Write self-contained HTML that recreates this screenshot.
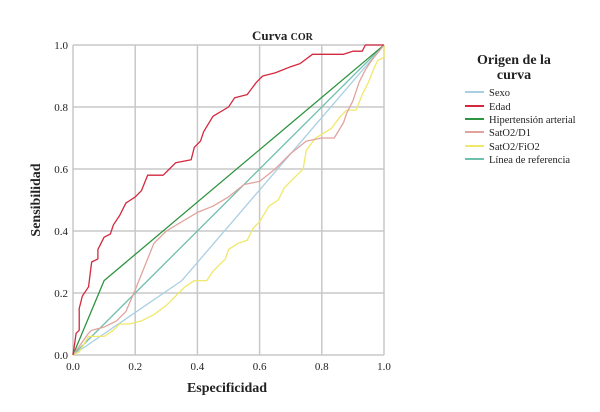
<!DOCTYPE html>
<html><head><meta charset="utf-8"><style>
body{margin:0;background:#fff;}
svg text{font-family:"Liberation Serif",serif;fill:#222;}
</style></head><body>
<svg width="600" height="407" viewBox="0 0 600 407" xmlns="http://www.w3.org/2000/svg">
<rect width="600" height="407" fill="#fff"/>
<g stroke="#c8c8c8" stroke-width="1.5" fill="none">
<line x1="135.2" y1="45" x2="135.2" y2="355"/>
<line x1="197.4" y1="45" x2="197.4" y2="355"/>
<line x1="259.6" y1="45" x2="259.6" y2="355"/>
<line x1="321.8" y1="45" x2="321.8" y2="355"/>
<line x1="384" y1="45" x2="384" y2="355"/>
<line x1="73" y1="293" x2="384" y2="293"/>
<line x1="73" y1="231" x2="384" y2="231"/>
<line x1="73" y1="169" x2="384" y2="169"/>
<line x1="73" y1="107" x2="384" y2="107"/>
<line x1="73" y1="45" x2="384" y2="45"/>
<line x1="73" y1="45" x2="73" y2="355"/>
<line x1="73" y1="355" x2="384" y2="355"/>
</g>
<g transform="translate(73,355) scale(311,-310)" fill="none" stroke-width="1.3" stroke-linejoin="round">
<polyline vector-effect="non-scaling-stroke" stroke="#6fbfae" points="0,0 1,1"/>
<polyline vector-effect="non-scaling-stroke" stroke="#a9cfe3" points="0,0 0.35,0.24 1,1"/>
<polyline vector-effect="non-scaling-stroke" stroke="#2e9440" points="0,0 0.1,0.24 1,1"/>
<polyline vector-effect="non-scaling-stroke" stroke="#f0e86a" points="0,0 0.02,0.01 0.05,0.06 0.1,0.06 0.13,0.08 0.15,0.1 0.18,0.1 0.22,0.11 0.26,0.13 0.3,0.16 0.34,0.2 0.36,0.22 0.39,0.24 0.43,0.24 0.45,0.27 0.47,0.29 0.49,0.31 0.5,0.34 0.53,0.36 0.56,0.37 0.58,0.41 0.6,0.43 0.63,0.48 0.66,0.5 0.68,0.54 0.72,0.58 0.74,0.6 0.75,0.66 0.78,0.7 0.83,0.73 0.86,0.77 0.88,0.79 0.91,0.79 0.93,0.84 0.95,0.88 0.97,0.93 0.98,0.95 1,0.96 1,1"/>
<polyline vector-effect="non-scaling-stroke" stroke="#e0a39d" points="0,0 0.05,0.07 0.06,0.08 0.1,0.09 0.14,0.11 0.17,0.14 0.2,0.21 0.26,0.36 0.3,0.4 0.4,0.46 0.45,0.48 0.5,0.51 0.55,0.55 0.6,0.56 0.65,0.6 0.7,0.65 0.75,0.69 0.8,0.7 0.84,0.7 0.87,0.75 0.88,0.78 0.9,0.82 0.92,0.88 0.94,0.92 0.96,0.95 1,1"/>
<polyline vector-effect="non-scaling-stroke" stroke="#d4283e" points="0,0 0.01,0.07 0.02,0.08 0.02,0.15 0.03,0.19 0.05,0.22 0.06,0.3 0.08,0.31 0.08,0.34 0.1,0.38 0.12,0.39 0.13,0.42 0.15,0.45 0.17,0.49 0.2,0.51 0.22,0.53 0.24,0.58 0.29,0.58 0.31,0.6 0.33,0.62 0.38,0.63 0.39,0.67 0.41,0.69 0.42,0.72 0.45,0.77 0.5,0.8 0.52,0.83 0.56,0.84 0.59,0.88 0.61,0.9 0.65,0.91 0.7,0.93 0.73,0.94 0.77,0.97 0.87,0.97 0.9,0.98 0.93,0.98 0.94,1 1,1"/>
</g>
<g font-size="11" text-anchor="end">
<text x="68" y="359">0.0</text><text x="68" y="297">0.2</text><text x="68" y="235">0.4</text>
<text x="68" y="173">0.6</text><text x="68" y="111">0.8</text><text x="68" y="49">1.0</text>
</g>
<g font-size="11" text-anchor="middle">
<text x="73" y="370">0.0</text><text x="135.2" y="370">0.2</text><text x="197.4" y="370">0.4</text>
<text x="259.6" y="370">0.6</text><text x="321.8" y="370">0.8</text><text x="384" y="370">1.0</text>
</g>
<text x="227" y="392" font-size="14" font-weight="bold" text-anchor="middle">Especificidad</text>
<text x="0" y="0" font-size="14" font-weight="bold" text-anchor="middle" transform="translate(40,200) rotate(-90)">Sensibilidad</text>
<text x="252" y="40" font-size="13" font-weight="bold">Curva <tspan font-size="10">COR</tspan></text>
<text x="514" y="64" font-size="14" font-weight="bold" text-anchor="middle">Origen de la</text>
<text x="514" y="79" font-size="14" font-weight="bold" text-anchor="middle">curva</text>
<g stroke-width="2">
<line x1="465" y1="92" x2="484" y2="92" stroke="#a9cfe3"/>
<line x1="465" y1="106" x2="484" y2="106" stroke="#d4283e"/>
<line x1="465" y1="119" x2="484" y2="119" stroke="#2e9440"/>
<line x1="465" y1="132" x2="484" y2="132" stroke="#e0a39d"/>
<line x1="465" y1="146" x2="484" y2="146" stroke="#f0e86a"/>
<line x1="465" y1="159" x2="484" y2="159" stroke="#6fbfae"/>
</g>
<g font-size="10.5">
<text x="489" y="96">Sexo</text><text x="489" y="110">Edad</text><text x="489" y="123">Hipertensión arterial</text>
<text x="489" y="136">SatO2/D1</text><text x="489" y="150">SatO2/FiO2</text><text x="489" y="163">Línea de referencia</text>
</g>
</svg>
</body></html>
